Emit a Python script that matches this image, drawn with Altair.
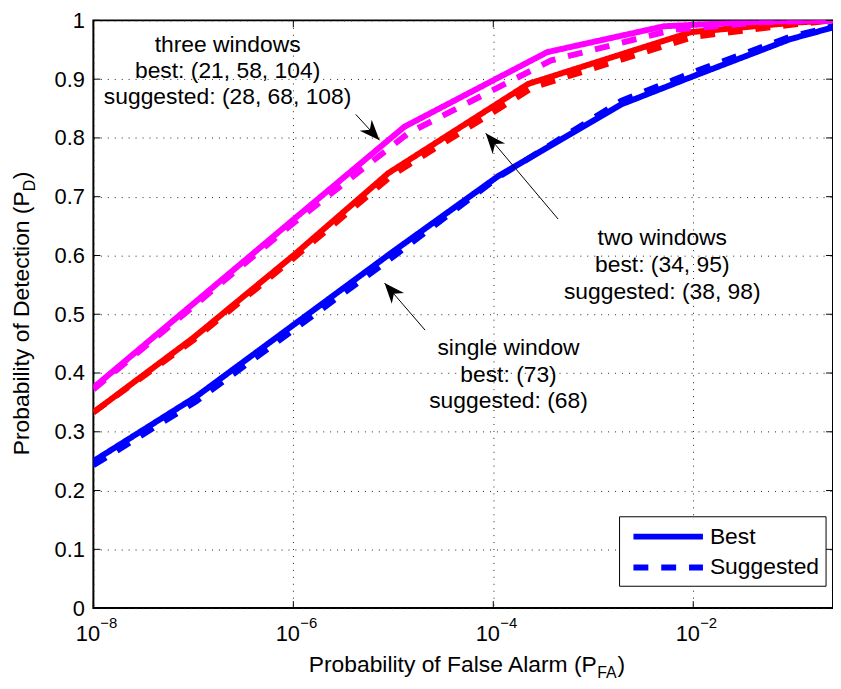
import altair as alt
import pandas as pd

FONT = "Liberation Sans"

# ---- data (P_FA, P_D) ----
single_best_pfa = [1e-8, 1.07e-7, 1e-5, 1.12e-4, 1.9e-3, 1e-2, 9.3e-2, 0.25]
single_best_pd = [0.25, 0.36, 0.607, 0.735, 0.857, 0.905, 0.968, 0.988]
single_sugg_pfa = [1e-8, 1.07e-7, 1e-5, 1.12e-4, 1.9e-3, 1e-2, 9.3e-2, 0.25]
single_sugg_pd = [0.243, 0.352, 0.598, 0.733, 0.863, 0.912, 0.972, 0.99]

two_best_pfa = [1e-8, 1e-7, 1e-6, 8.9e-6, 2.24e-4, 9.5e-3, 0.1, 0.25]
two_best_pd = [0.333, 0.46, 0.60, 0.74, 0.892, 0.98, 0.996, 1.0]
two_sugg_pfa = [1e-8, 1e-7, 1e-6, 1e-5, 2.5e-4, 1e-2, 0.1, 0.25]
two_sugg_pd = [0.333, 0.456, 0.595, 0.738, 0.886, 0.972, 0.993, 1.0]

three_best_pfa = [1e-8, 1e-6, 1.29e-5, 3.47e-4, 5.1e-3, 0.05, 0.25]
three_best_pd = [0.375, 0.661, 0.819, 0.946, 0.99, 0.998, 1.0]
three_sugg_pfa = [1e-8, 1e-6, 1.41e-5, 3.8e-4, 6.3e-3, 0.05, 0.25]
three_sugg_pd = [0.372, 0.655, 0.808, 0.932, 0.984, 0.997, 1.0]

configs = ["single", "two", "three"]
config_colors = ["#0000ff", "#ff0000", "#ff00ff"]
kinds = ["Best", "Suggested"]
dash_patterns = [[1, 0], [15, 13]]

x_ticks = [1e-8, 1e-6, 1e-4, 1e-2]
x_tick_exps = ["−8", "−6", "−4", "−2"]
y_ticks = [0, 0.1, 0.2, 0.3, 0.4, 0.5, 0.6, 0.7, 0.8, 0.9, 1.0]

# annotations
ann_pfa = [2.2e-7, 2.2e-7, 2.2e-7, 4.9e-3, 4.9e-3, 4.9e-3, 1.42e-4, 1.42e-4, 1.42e-4]
ann_pd = [0.958, 0.914, 0.870, 0.629, 0.583, 0.538, 0.443, 0.397, 0.353]
ann_text = ["three windows", "best: (21, 58, 104)", "suggested: (28, 68, 108)",
            "two windows", "best: (34, 95)", "suggested: (38, 98)",
            "single window", "best: (73)", "suggested: (68)"]

arrow_pfa_start = [4.21e-6, 4.45e-4, 2.08e-5]
arrow_pd_start = [0.840, 0.662, 0.473]
arrow_pfa_tip = [7.28e-6, 8.4e-5, 8.17e-6]
arrow_pd_tip = [0.796, 0.808, 0.553]
arrow_angle = [137.3, 319.7, 318.9]

W, H = 745, 592

# ---- build tables ----
rows = []
for cfg, kind, xs, ys in [
    ("single", "Best", single_best_pfa, single_best_pd),
    ("single", "Suggested", single_sugg_pfa, single_sugg_pd),
    ("two", "Best", two_best_pfa, two_best_pd),
    ("two", "Suggested", two_sugg_pfa, two_sugg_pd),
    ("three", "Best", three_best_pfa, three_best_pd),
    ("three", "Suggested", three_sugg_pfa, three_sugg_pd),
]:
    for x, y in zip(xs, ys):
        rows.append({"pfa": x, "pd": y, "config": cfg, "kind": kind, "grp": cfg + kind})
df = pd.DataFrame(rows)

xscale = alt.Scale(type="log", domain=[1e-8, 0.25], nice=False)
yscale = alt.Scale(domain=[0, 1], nice=False)

base = alt.Chart(df)

lines = base.mark_line(strokeWidth=6, clip=True).encode(
    x=alt.X("pfa:Q", scale=xscale, title=None,
            axis=alt.Axis(values=x_ticks, labelExpr="'10'", grid=True,
                          ticks=False, domain=False, labelFontSize=22,
                          labelPadding=16, labelOffset=-6, labelFlush=False,
                          labelOverlap=False, labelColor="black",
                          labelFont=FONT, gridDash=[1, 6], gridColor="#222",
                          gridWidth=1)),
    y=alt.Y("pd:Q", scale=yscale, title=None,
            axis=alt.Axis(values=y_ticks, format=".1~f", grid=True, ticks=False,
                          domain=False, labelFontSize=22, labelPadding=9,
                          labelColor="black", labelFont=FONT,
                          gridDash=[1, 6], gridColor="#222", gridWidth=1)),
    color=alt.Color("config:N", scale=alt.Scale(domain=configs, range=config_colors),
                    legend=None),
    strokeDash=alt.StrokeDash("kind:N",
                              scale=alt.Scale(domain=kinds, range=dash_patterns),
                              legend=None),
    detail="grp:N",
)

# exponents of x tick labels
exp_df = pd.DataFrame({"pfa": x_ticks, "e": x_tick_exps})
exps = alt.Chart(exp_df).mark_text(fontSize=15, font=FONT, color="black",
                                   align="left", baseline="alphabetic", dx=7).encode(
    x=alt.X("pfa:Q", scale=xscale), y=alt.value(H + 20), text="e:N")

# inward ticks
ytick_df = pd.DataFrame({"pd": y_ticks})
xtick_df = pd.DataFrame({"pfa": x_ticks})
ticks_l = alt.Chart(ytick_df).mark_rule(color="black", strokeWidth=1).encode(
    y=alt.Y("pd:Q", scale=yscale), x=alt.value(0), x2=alt.value(7))
ticks_r = alt.Chart(ytick_df).mark_rule(color="black", strokeWidth=1).encode(
    y=alt.Y("pd:Q", scale=yscale), x=alt.value(W - 7), x2=alt.value(W))
ticks_b = alt.Chart(xtick_df).mark_rule(color="black", strokeWidth=1).encode(
    x=alt.X("pfa:Q", scale=xscale), y=alt.value(H - 7), y2=alt.value(H))
ticks_t = alt.Chart(xtick_df).mark_rule(color="black", strokeWidth=1).encode(
    x=alt.X("pfa:Q", scale=xscale), y=alt.value(0), y2=alt.value(7))

ann_df = pd.DataFrame({"pfa": ann_pfa, "pd": ann_pd, "text": ann_text})
ann = alt.Chart(ann_df).mark_text(fontSize=23, font=FONT, color="black",
                                  align="center", baseline="middle").encode(
    x=alt.X("pfa:Q", scale=xscale), y=alt.Y("pd:Q", scale=yscale), text="text:N")

arr_df = pd.DataFrame({"x1": arrow_pfa_start, "y1": arrow_pd_start,
                       "x2": arrow_pfa_tip, "y2": arrow_pd_tip, "ang": arrow_angle})
arr_lines = alt.Chart(arr_df).mark_rule(color="black", strokeWidth=1).encode(
    x=alt.X("x1:Q", scale=xscale), y=alt.Y("y1:Q", scale=yscale),
    x2="x2:Q", y2="y2:Q")
head_path = "M0,0 L0.8,2 L0,1.4 L-0.8,2 Z"
arr_heads = alt.Chart(arr_df).mark_point(shape=head_path, filled=True, color="black",
                                         opacity=1, size=420, strokeWidth=0).encode(
    x=alt.X("x2:Q", scale=xscale), y=alt.Y("y2:Q", scale=yscale),
    angle=alt.Angle("ang:Q", scale=None))

# legend (drawn as a guide box)
LX0, LX1, LY0, LY1 = 530, 738, 500, 570
leg_box = alt.Chart(pd.DataFrame({"k": [0]})).mark_rect(
    fill="white", stroke="black", strokeWidth=1).encode(
    x=alt.value(LX0), x2=alt.value(LX1), y=alt.value(LY0), y2=alt.value(LY1))
leg_items = []
for i, (kind, dash) in enumerate(zip(kinds, dash_patterns)):
    yy = 520 + 31 * i
    kd = pd.DataFrame({"kind": [kind]})
    leg_items.append(alt.Chart(kd).mark_rule(
        color="#0000ff", strokeWidth=6, strokeDash=dash).encode(
        x=alt.value(544), x2=alt.value(614), y=alt.value(yy)))
    leg_items.append(alt.Chart(kd).mark_text(
        fontSize=23, font=FONT, color="black", align="left",
        baseline="middle").encode(text="kind:N", x=alt.value(621), y=alt.value(yy)))


# axis titles with subscripts
def txt(s, x, y, size, angle=0, align="left"):
    kw = dict(fontSize=size, font=FONT, color="black", align=align,
              baseline="alphabetic")
    if angle:
        kw["angle"] = angle
    return alt.Chart(pd.DataFrame({"t": [s]})).mark_text(**kw).encode(
        text="t:N", x=alt.value(x), y=alt.value(y))


X0 = 507
xt_main = txt("Probability of False Alarm (P", X0, 656, 23, align="right")
xt_sub = txt("FA", X0 + 0.5, 662, 16)
xt_end = txt(")", X0 + 21, 656, 23)

Y0 = 438
yt_main = txt("Probability of Detection (P", -65, Y0, 23, angle=270)
yt_sub = txt("D", -59, Y0 - 266, 16, angle=270)
yt_end = txt(")", -65, Y0 - 278, 23, angle=270)

chart = alt.layer(
    lines, exps, ticks_l, ticks_r, ticks_b, ticks_t, arr_lines, arr_heads, ann,
    leg_box, *leg_items,
    xt_main, xt_sub, xt_end, yt_main, yt_sub, yt_end,
).properties(
    width=W, height=H,
    padding={"left": 86, "top": 10, "right": 0, "bottom": 77},
    autosize=alt.AutoSizeParams(type="none"),
).configure(font=FONT).configure_view(stroke="black", strokeWidth=2)

chart.save("out.html", embed_options={"renderer": "svg", "actions": False})
